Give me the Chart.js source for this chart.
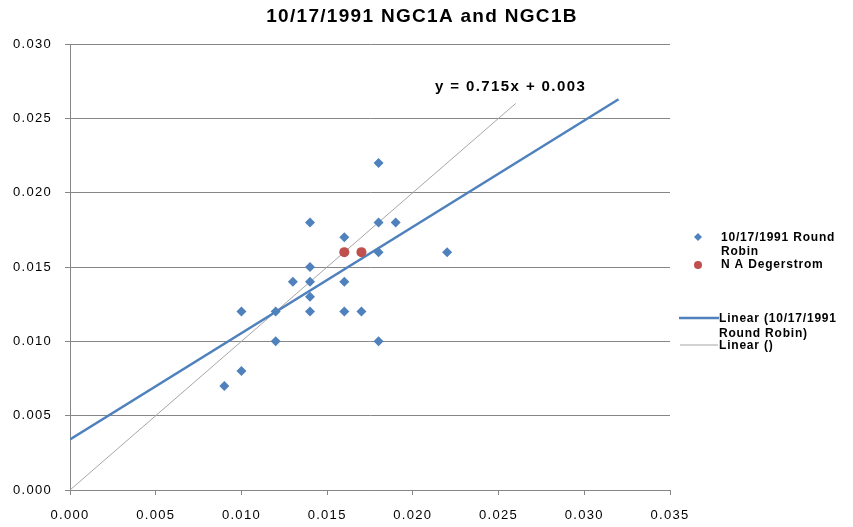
<!DOCTYPE html>
<html>
<head>
<meta charset="utf-8">
<script src="https://cdn.jsdelivr.net/npm/chart.js@4"></script>
<style>
  html, body { margin: 0; padding: 0; background: #fff; }
  #chart { display: block; }
</style>
</head>
<body>
<canvas id="chart" width="853" height="527"></canvas>
<script>
const chartTitle = "10/17/1991 NGC1A and NGC1B";

// 10/17/1991 Round Robin
const robinX = [0.009, 0.010, 0.010, 0.012, 0.012, 0.013, 0.014, 0.014, 0.014, 0.014, 0.014,
                0.016, 0.016, 0.016, 0.017, 0.018, 0.018, 0.018, 0.018, 0.019, 0.022];
const robinY = [0.007, 0.008, 0.012, 0.012, 0.010, 0.014, 0.018, 0.015, 0.014, 0.013, 0.012,
                0.017, 0.014, 0.012, 0.012, 0.022, 0.018, 0.016, 0.010, 0.018, 0.016];

// N A Degerstrom
const degerX = [0.016, 0.017];
const degerY = [0.016, 0.016];

// trend lines (coefficients as shown by the chart)
const trendSlope = 0.715;
const trendIntercept = 0.0034;
const trendRange = [0, 0.032];
const identityRange = [0, 0.026];

const xTicks = [0, 0.005, 0.010, 0.015, 0.020, 0.025, 0.030, 0.035];
const yTicks = [0, 0.005, 0.010, 0.015, 0.020, 0.025, 0.030];

const equationLabel = "y = 0.715x + 0.003";

const BLUE = "#4F81BD";
const RED = "#C0504D";
const GREY = "#A6A6A6";

const robinPts = robinX.map((x, i) => ({ x: x, y: robinY[i] }));
const degerPts = degerX.map((x, i) => ({ x: x, y: degerY[i] }));
const trendPts = trendRange.map(x => ({ x: x, y: trendSlope * x + trendIntercept }));
const identityPts = identityRange.map(x => ({ x: x, y: x }));

const FONT = "'Liberation Sans', Arial, sans-serif";

// the reference text is set quite wide, so add some letter spacing
const spacing = {
    id: "spacing",
    beforeDraw(chart) { chart.ctx.letterSpacing = "1.3px"; }
};

// title, equation and the legend on the right
const decorations = {
    id: "decorations",
    afterDraw(chart) {
        const c = chart.ctx;
        c.save();
        c.fillStyle = "#000";
        c.textBaseline = "middle";

        c.letterSpacing = "1.3px";
        c.font = "bold 19px " + FONT;
        c.textAlign = "center";
        c.fillText(chartTitle, 422, 17);

        c.letterSpacing = "1.4px";
        c.font = "bold 15px " + FONT;
        c.textAlign = "left";
        c.fillText(equationLabel, 435, 87);

        // legend
        c.letterSpacing = "0.8px";
        c.font = "bold 12px " + FONT;
        const tx = 721;
        c.fillStyle = BLUE;
        c.beginPath();
        c.moveTo(698, 233); c.lineTo(702, 237); c.lineTo(698, 241); c.lineTo(694, 237);
        c.closePath(); c.fill();
        c.fillStyle = RED;
        c.beginPath(); c.arc(698, 265, 4, 0, Math.PI * 2); c.fill();

        c.fillStyle = "#000";
        c.fillText("10/17/1991 Round", tx, 238);
        c.fillText("Robin", tx, 252);
        c.fillText("N A Degerstrom", tx, 265);

        c.strokeStyle = BLUE; c.lineWidth = 2.5;
        c.beginPath(); c.moveTo(679, 318); c.lineTo(719, 318); c.stroke();
        c.strokeStyle = GREY; c.lineWidth = 1;
        c.beginPath(); c.moveTo(680, 345); c.lineTo(718, 345); c.stroke();
        c.fillText("Linear (10/17/1991", tx - 2, 319);
        c.fillText("Round Robin)", tx - 2, 334);
        c.fillText("Linear ()", tx - 2, 346);
        c.restore();
    }
};

new Chart(document.getElementById("chart").getContext("2d"), {
    type: "scatter",
    data: {
        datasets: [
            {
                label: "Linear ()",
                data: identityPts,
                showLine: true,
                borderColor: GREY,
                borderWidth: 1,
                pointRadius: 0,
                order: 3
            },
            {
                label: "Linear (10/17/1991 Round Robin)",
                data: trendPts,
                showLine: true,
                borderColor: BLUE,
                borderWidth: 2.5,
                pointRadius: 0,
                order: 2
            },
            {
                label: "10/17/1991 Round Robin",
                data: robinPts,
                pointStyle: "rectRot",
                pointRadius: 5,
                backgroundColor: BLUE,
                borderColor: BLUE,
                borderWidth: 0,
                order: 1
            },
            {
                label: "N A Degerstrom",
                data: degerPts,
                pointStyle: "circle",
                pointRadius: 5,
                backgroundColor: RED,
                borderColor: RED,
                borderWidth: 0,
                order: 0
            }
        ]
    },
    options: {
        responsive: false,
        animation: false,
        layout: { padding: { top: 44, right: 183, left: 0, bottom: 0 } },
        plugins: {
            legend: { display: false },
            tooltip: { enabled: false }
        },
        scales: {
            x: {
                type: "linear",
                min: 0,
                max: 0.035,
                afterBuildTicks: axis => { axis.ticks = xTicks.map(v => ({ value: v })); },
                afterFit: axis => { axis.height = 37; },
                border: { color: "#868686", width: 1 },
                grid: { drawOnChartArea: false, drawTicks: true, tickLength: 5, color: "#868686" },
                ticks: {
                    color: "#000",
                    padding: 13,
                    maxRotation: 0,
                    font: { family: FONT, size: 13 },
                    callback: v => v.toFixed(3)
                }
            },
            y: {
                type: "linear",
                min: 0,
                max: 0.030,
                afterBuildTicks: axis => { axis.ticks = yTicks.map(v => ({ value: v })); },
                afterFit: axis => { axis.width = 70; },
                border: { color: "#868686", width: 1 },
                grid: { drawTicks: true, tickLength: 5, color: "#868686" },
                ticks: {
                    color: "#000",
                    padding: 13,
                    font: { family: FONT, size: 13 },
                    callback: v => v.toFixed(3)
                }
            }
        }
    },
    plugins: [spacing, decorations]
});
</script>
</body>
</html>
